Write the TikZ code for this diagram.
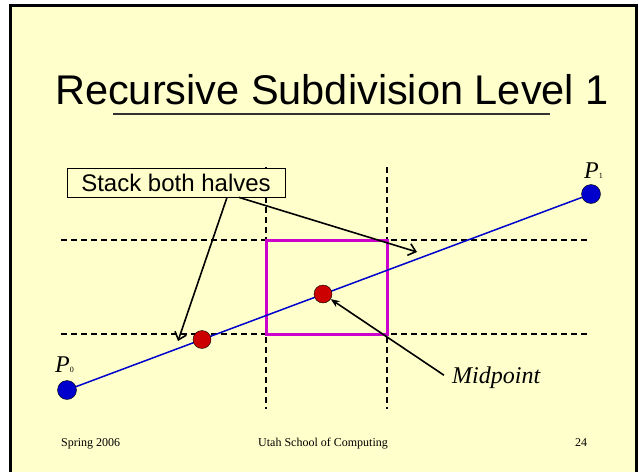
\documentclass[tikz,border=0pt]{standalone}
\usepackage{fontspec}
\setmainfont{Liberation Serif}
\setsansfont{Liberation Sans}
\usetikzlibrary{arrows.meta}
\definecolor{slideyellow}{HTML}{FFFFCC}
\definecolor{ptblue}{HTML}{0000CC}
\definecolor{ptred}{HTML}{CC0000}
\definecolor{boxmagenta}{HTML}{CC00CC}
\begin{document}
\begin{tikzpicture}[x=1pt, y=-1pt,
  endpt/.style={circle, draw=black, fill=ptblue, minimum size=19pt, inner sep=0pt},
  subpt/.style={circle, draw=black, fill=ptred, minimum size=18pt, inner sep=0pt},
  gridline/.style={dash pattern=on 6pt off 4pt, line width=1.4pt},
  calloutarrow/.style={line width=1.6pt, -{Straight Barb[length=7pt, width=12pt]}},
  lbl/.style={anchor=base west, inner sep=0pt}]
\useasboundingbox (0,0) rectangle (639,471);
\fill[white] (0,0) rectangle (639,471);
\begin{scope}
\clip (0,0) rectangle (639,471);
\draw[line width=3pt, fill=slideyellow] (10,5) rectangle (636,490);
\end{scope}
\node[lbl, font=\sffamily\fontsize{41.5}{48}\selectfont] (title) at (55,104) {Recursive Subdivision Level 1};
\draw[line width=1.6pt, black!80] (113,114) -- (550,114);
\draw[gridline] (61,240) -- (587,240);
\draw[gridline] (61,334) -- (587,334);
\draw[gridline] (266,167) -- (266,409);
\draw[gridline] (387,167) -- (387,409);
\draw[boxmagenta, line width=3pt] (266,240) rectangle (387,334);
\node[endpt] (p0) at (67,390) {};
\node[endpt] (p1) at (591,194) {};
\draw[ptblue, line width=1.5pt] (p0) -- (p1);
\node[subpt] (half) at (202,339.5) {};
\node[subpt] (mid) at (323,294) {};
\node[lbl, font=\fontsize{24}{28}\selectfont] (p0label) at (55,372) {\textit{P}{\fontsize{8}{8}\selectfont 0}};
\node[lbl, font=\fontsize{24}{28}\selectfont] (p1label) at (584,178) {\textit{P}{\fontsize{8}{8}\selectfont 1}};
\node[draw, fill=slideyellow, line width=0.8pt, minimum width=218pt, minimum height=29pt, inner sep=0pt, font=\sffamily\fontsize{24}{28}\selectfont] (stack) at (176,182.5) {Stack both halves};
\coordinate (lefthalf) at (178,341);
\coordinate (righthalf) at (417,252);
\draw[calloutarrow] ([xshift=51pt]stack.south) -- (lefthalf);
\draw[calloutarrow] ([xshift=63pt]stack.south) -- (righthalf);
\node[anchor=base west, inner sep=0pt, font=\itshape\fontsize{24}{28}\selectfont] (midlabel) at (452,383) {Midpoint};
\draw[line width=1.6pt, -{Stealth[length=9pt, width=7pt]}] ([xshift=-8pt, yshift=2pt]midlabel.west) -- (mid);
\node[lbl, font=\fontsize{12}{14}\selectfont] (season) at (61,446) {Spring 2006};
\node[lbl, font=\fontsize{12}{14}\selectfont] (school) at (258,446) {Utah School of Computing};
\node[lbl, font=\fontsize{12}{14}\selectfont] (page) at (575,446) {24};
\end{tikzpicture}
\end{document}
